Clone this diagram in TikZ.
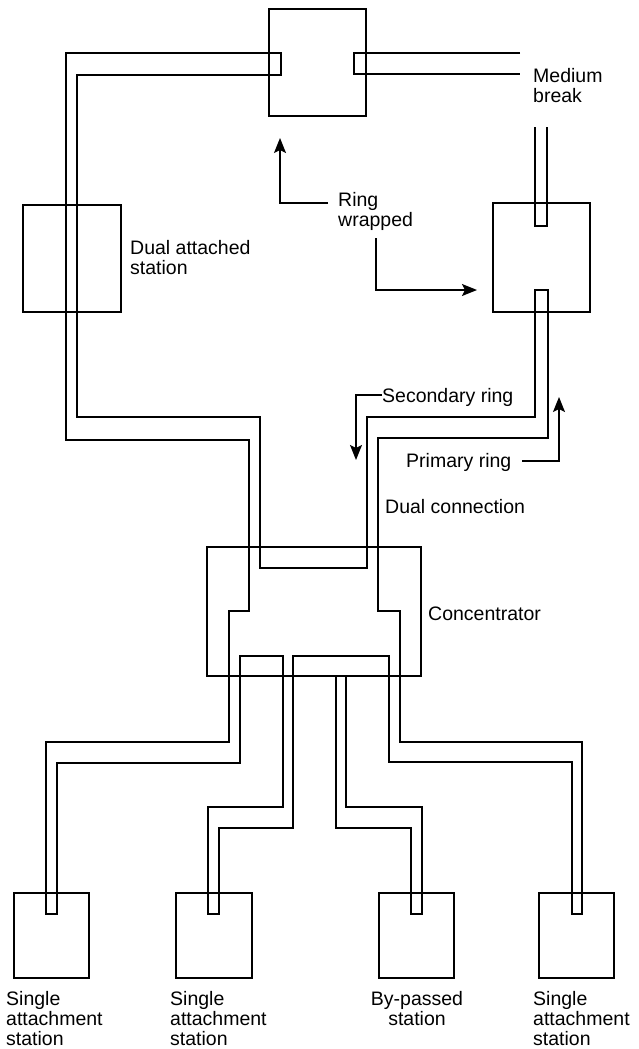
\documentclass[tikz,border=0pt]{standalone}
\usepackage{fontspec}
\setmainfont{Liberation Sans}
\usetikzlibrary{arrows.meta}
\begin{document}
\begin{tikzpicture}[x=1pt,y=-1pt,
  cable/.style={line width=1.5pt, line join=miter},
  boxline/.style={line width=1.4pt},
  lbl/.style={inner sep=0pt, font=\fontsize{19.5}{20}\selectfont, align=left},
  pointer/.style={line width=1.4pt, -{Stealth[length=15pt,width=12pt,inset=3pt]}}]
\useasboundingbox (0,0) rectangle (638,1049);

% station boxes
\draw[boxline] (269,9) rectangle (366,116);
\draw[boxline] (23,205) rectangle (121,312);
\draw[boxline] (493,203) rectangle (590,312);
\draw[boxline] (207,547) rectangle (421,676);
\draw[boxline] (14,893) rectangle (89,978);
\draw[boxline] (176,893) rectangle (252,978);
\draw[boxline] (379,893) rectangle (454,978);
\draw[boxline] (539,893) rectangle (614,978);

% main wrapped ring (closed loop)
\draw[cable] (281,53) -- (66,53) -- (66,440) -- (249,440) -- (249,611) -- (229,611)
  -- (229,742) -- (46,742) -- (46,914) -- (57,914) -- (57,763) -- (240,763)
  -- (240,656) -- (283,656) -- (283,807) -- (208,807) -- (208,914) -- (219,914)
  -- (219,828) -- (293,828) -- (293,656) -- (389,656) -- (389,762) -- (572,762)
  -- (572,914) -- (582,914) -- (582,742) -- (400,742) -- (400,611) -- (378,611)
  -- (378,438) -- (548,438) -- (548,290) -- (535,290) -- (535,417) -- (367,417)
  -- (367,568) -- (260,568) -- (260,417) -- (77,417) -- (77,75) -- (281,75) -- cycle;

% by-passed station lobe
\draw[cable] (336,676) -- (336,828) -- (411,828) -- (411,914) -- (422,914)
  -- (422,807) -- (346,807) -- (346,676);

% broken medium ends
\draw[cable] (520,53) -- (354,53) -- (354,74) -- (520,74);
\draw[cable] (535,127) -- (535,226) -- (547,226) -- (547,127);

% labels
\node[lbl, anchor=north west] (mb) at (533,68) {Medium\\break};
\node[lbl, anchor=north west] (rw) at (338,192) {Ring\\wrapped};
\node[lbl, anchor=north west] (das) at (130,240) {Dual attached\\station};
\node[lbl, anchor=base west] (sec) at (382,402) {Secondary ring};
\node[lbl, anchor=base west] (pri) at (406,467) {Primary ring};
\node[lbl, anchor=base west] (dc) at (385,513) {Dual connection};
\node[lbl, anchor=base west] (conc) at (428,620) {Concentrator};
\node[lbl, anchor=north west] (s1) at (6,991) {Single\\attachment\\station};
\node[lbl, anchor=north west] (s2) at (170,991) {Single\\attachment\\station};
\node[lbl, anchor=north, align=center] (s3) at (417,991) {By-passed\\station};
\node[lbl, anchor=north west] (s4) at (533,991) {Single\\attachment\\station};

% pointers
\coordinate (a1s) at (328,203);
\coordinate (a1e) at (280,138);
\coordinate (a2s) at (376,238);
\coordinate (a2e) at (477,290);
\coordinate (a3s) at (382,395);
\coordinate (a3e) at (356,460);
\coordinate (a4s) at (522,461);
\coordinate (a4e) at (559,397);
\draw[pointer] (a1s) -| (a1e);
\draw[pointer] (a2s) |- (a2e);
\draw[pointer] (a3s) -| (a3e);
\draw[pointer] (a4s) -| (a4e);
\end{tikzpicture}
\end{document}
